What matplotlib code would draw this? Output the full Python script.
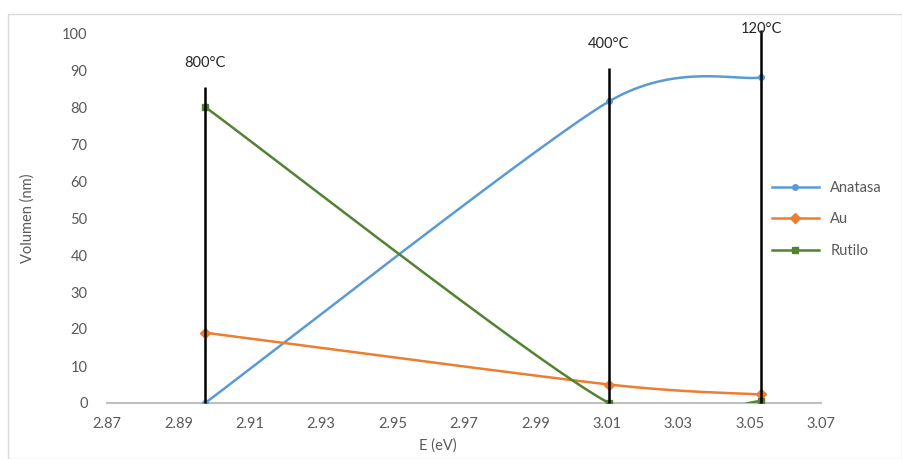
import numpy as np
import matplotlib.pyplot as plt
from matplotlib.patches import Rectangle

# data
energy = [2.8975, 3.0106, 3.0532]
anatasa = [0.0, 81.5, 88.0]
au = [19.0, 5.0, 2.3]
rutilo = [80.0, 0.0, 0.5]

temp_labels = ["800°C", "400°C", "120°C"]
line_tops = [85.5, 90.5, 100.8]
label_y = [92.0, 97.0, 101.0]

x_ticks = [2.87, 2.89, 2.91, 2.93, 2.95, 2.97, 2.99, 3.01, 3.03, 3.05, 3.07]
y_ticks = list(range(0, 101, 10))


def smooth(xs, ys, sx=3570.0, sy=3.7, n=80):
    # excel-like smoothed line: bezier handles of 1/6 the neighbour span,
    # capped at half the shorter adjacent segment (pixel space)
    p = np.column_stack([np.asarray(xs) * sx, np.asarray(ys) * sy])
    k = len(p)
    d = [np.hypot(*(p[i + 1] - p[i])) for i in range(k - 1)]
    tang = []
    for i in range(k):
        if 0 < i < k - 1:
            t = p[i + 1] - p[i - 1]
            ln = np.hypot(*t)
            h = min(ln / 6, min(d[i - 1], d[i]) / 2)
            tang.append(t / ln * h)
        elif i == 0:
            tang.append((p[1] - p[0]) / 6)
        else:
            tang.append((p[-1] - p[-2]) / 6)
    out = []
    for i in range(k - 1):
        p1, p2 = p[i], p[i + 1]
        c1 = p1 + tang[i]
        c2 = p2 - tang[i + 1]
        t = np.linspace(0, 1, n)[:, None]
        seg = (1 - t) ** 3 * p1 + 3 * (1 - t) ** 2 * t * c1 + 3 * (1 - t) * t ** 2 * c2 + t ** 3 * p2
        out.append(seg if i == 0 else seg[1:])
    seg = np.vstack(out)
    return seg[:, 0] / sx, seg[:, 1] / sy


plt.rcParams['font.family'] = ['Lato', 'DejaVu Sans']
grey = '#595959'

fig = plt.figure(figsize=(9.03, 4.59), dpi=100)
fig.patches.append(Rectangle((8 / 903, 0), 894 / 903, 1 - 14 / 459, transform=fig.transFigure,
                             fill=False, edgecolor='#D9D9D9', linewidth=1))
ax = fig.add_axes([107 / 903, 1 - 403 / 459, 714 / 903, 370 / 459])

series = [
    ("Anatasa", anatasa, '#5B9BD5', 'o', 4),
    ("Au", au, '#ED7D31', 'D', 5),
    ("Rutilo", rutilo, '#548235', 's', 4),
]
for name, ys, col, mk, ms in series:
    sx, sy = smooth(energy, ys)
    ax.plot(sx, sy, color=col, lw=1.8, zorder=3)
    ax.plot(energy, ys, linestyle='none', marker=mk, ms=ms, color=col, zorder=4)
    ax.plot([], [], color=col, lw=1.8, marker=mk, ms=ms, label=name)

ax.vlines(energy, 0, line_tops, colors='black', lw=1.8, zorder=5, clip_on=False)
for x, y, t in zip(energy, label_y, temp_labels):
    ax.text(x, y, t, ha='center', va='center', fontsize=10.5, color='#262626', zorder=6)

ax.set_xlim(2.87, 3.07)
ax.set_ylim(0, 100)
ax.set_xticks(x_ticks)
ax.set_xticklabels([f"{v:.2f}" for v in x_ticks])
ax.set_yticks(y_ticks)
for s in ['top', 'right', 'left']:
    ax.spines[s].set_visible(False)
ax.spines['bottom'].set_color('#BFBFBF')
ax.spines['bottom'].set_linewidth(1.5)
ax.tick_params(length=0, labelsize=10.5, labelcolor=grey, pad=10)
ax.tick_params(axis='y', pad=14)

ax.set_xlabel("E (eV)", fontsize=10.5, color=grey, labelpad=4)
ax.xaxis.set_label_coords((438 - 107) / 714, -0.095)
ax.set_ylabel("Volumen (nm)", fontsize=10.5, color=grey)
ax.yaxis.set_label_coords(-0.101, 0.5)

leg = ax.legend(loc='center left', bbox_to_anchor=(0.913, 0.497), frameon=False,
                fontsize=10.5, labelcolor=grey, handlelength=3.2, labelspacing=1.2)

fig.savefig("out.png", dpi=100)
